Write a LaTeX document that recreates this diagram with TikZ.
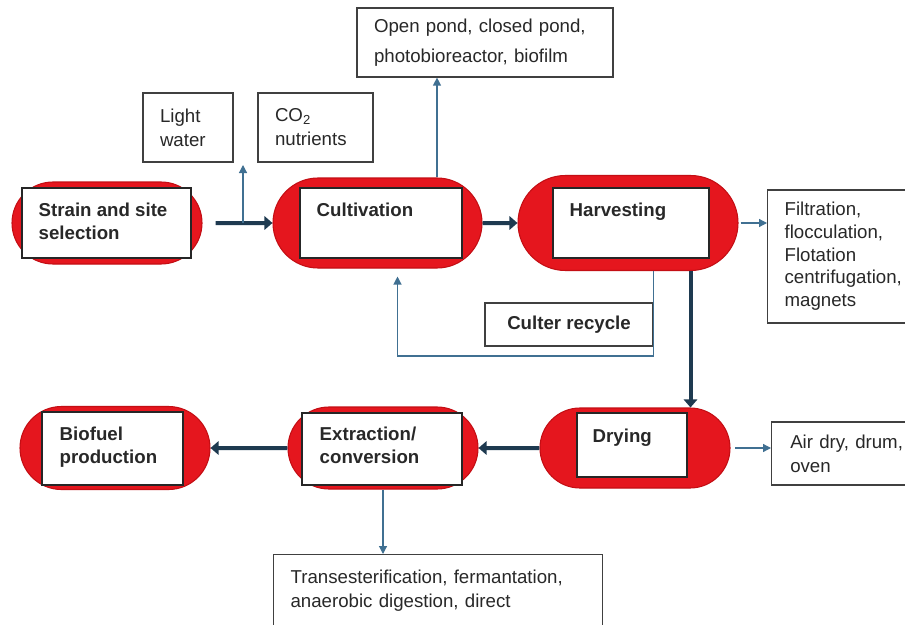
\documentclass[tikz,border=0pt]{standalone}
\usepackage{fontspec}
\setmainfont{Liberation Sans}
\usetikzlibrary{arrows.meta,shapes.misc}
\definecolor{pillred}{RGB}{229,22,30}
\definecolor{pilledge}{RGB}{196,14,20}
\definecolor{flowblue}{RGB}{30,58,80}
\definecolor{sideblue}{RGB}{64,112,146}
\definecolor{ink}{RGB}{40,40,40}

\begin{document}
\begin{tikzpicture}[x=0.75pt,y=-0.75pt,
	pill/.style={rounded rectangle, fill=pillred, draw=pilledge, line width=0.8pt, inner sep=0pt},
	stage/.style={rectangle, draw=black!85, fill=white, line width=0.8pt, inner sep=0pt},
	tag/.style={anchor=north west, align=left, inner sep=0pt, text=ink, font=\fontsize{14}{17.25}\selectfont\bfseries},
	note/.style={rectangle, draw=black!75, fill=white, line width=0.9pt, align=left, inner xsep=12.75pt, inner ysep=0pt, text=ink, font=\fontsize{14}{18}\selectfont},
	mainarrow/.style={-{Triangle[length=6pt,width=10pt]}, draw=flowblue, line width=3pt},
	sidearrow/.style={-{Triangle[length=6pt,width=6pt]}, draw=sideblue, line width=0.9pt}]

	\useasboundingbox (0,0) rectangle (905,624);
	\clip (0,0) rectangle (905,624);
	\fill[white] (0,0) rectangle (905,624);

	\node[pill, minimum width=142.5pt, minimum height=61.5pt] (p_1) at (107,223) {};
	\node[pill, minimum width=156.75pt, minimum height=67.5pt] (p_2) at (377.5,223) {};
	\node[pill, minimum width=165pt, minimum height=71.25pt] (p_3) at (628,223) {};
	\node[pill, minimum width=142.5pt, minimum height=60pt] (p_4) at (635,448) {};
	\node[pill, minimum width=142.5pt, minimum height=61.5pt] (p_5) at (383,448) {};
	\node[pill, minimum width=142.5pt, minimum height=62.25pt] (p_6) at (115,448) {};

	\node[stage, minimum width=126.75pt, minimum height=52.5pt] (t_1) at (106.5,223) {};
	\node[stage, minimum width=121.5pt, minimum height=52.5pt] (t_2) at (381,223) {};
	\node[stage, minimum width=117pt, minimum height=52.5pt] (t_3) at (631,223) {};
	\node[stage, minimum width=82.5pt, minimum height=48pt] (t_4) at (632,445) {};
	\node[stage, minimum width=120pt, minimum height=54pt] (t_5) at (382,449) {};
	\node[stage, minimum width=105.75pt, minimum height=54.75pt] (t_6) at (112.5,448.5) {};

	\node[tag] (l_1) at ([shift={(12.75pt,-11.5pt)}]t_1.north west) {Strain and site\\selection};
	\node[tag] (l_2) at ([shift={(12.75pt,-11.5pt)}]t_2.north west) {Cultivation};
	\node[tag] (l_3) at ([shift={(12.75pt,-11.5pt)}]t_3.north west) {Harvesting};
	\node[tag] (l_4) at ([shift={(12pt,-12pt)}]t_4.north west) {Drying};
	\node[tag] (l_5) at ([shift={(13.5pt,-11pt)}]t_5.north west) {Extraction/\\conversion};
	\node[tag] (l_6) at ([shift={(13.5pt,-11.5pt)}]t_6.north west) {Biofuel\\production};

	\node[note, text width=42pt, minimum height=51.75pt] (a_1) at (188,127.5) {Light\\water};
	\node[note, text width=60.75pt, minimum height=51.75pt] (a_2) at (315.5,127.5) {CO\textsubscript{2}\\nutrients};
	\node[note, text width=166.5pt, minimum height=51.75pt, font=\fontsize{14}{22.5}\selectfont] (a_3) at (485,42.5) {Open pond, closed pond,\\photobioreactor, biofilm};
	\node[note, text width=115pt, minimum height=99.75pt, anchor=west, font=\fontsize{14}{17}\selectfont] (a_4) at (767,256.5) {Filtration,\\flocculation,\\Flotation\\centrifugation,\\magnets};
	\node[note, text width=110pt, minimum height=47.25pt, anchor=west, inner xsep=14pt] (a_5) at (771,453.5) {Air dry, drum,\\oven};
	\node[note, text width=221.25pt, minimum height=54pt, anchor=north west] (a_6) at (273,554) {Transesterification, fermantation,\\anaerobic digestion, direct};
	\node[note, minimum width=126pt, minimum height=32.25pt, font=\fontsize{14}{17}\selectfont\bfseries] (a_7) at (569,324.5) {Culter recycle};

	\coordinate (c_1) at (243,223);

	\draw[mainarrow, shorten <=9.75pt] (p_1) -- (p_2);
	\draw[mainarrow] (p_2) -- (p_3);
	\draw[mainarrow] (p_3.south east) -- (p_3.south east |- p_4.north);
	\draw[mainarrow] (p_4) -- (p_5);
	\draw[mainarrow] (p_5) -- (p_6);

	\draw[sidearrow] (c_1) -- ++(0,-58);
	\draw[sidearrow] (p_2.north east) -- (p_2.north east |- a_3.south);
	\draw[sidearrow, shorten <=1.5pt] (p_3.east) -- (p_3.east -| a_4.west);
	\draw[sidearrow, shorten >=6pt] (a_7.east |- p_3.south) -- ++(0,85) -| ([xshift=15pt]p_2.south);
	\draw[sidearrow, shorten <=3.5pt] (p_4.east) -- (p_4.east -| a_5.west);
	\draw[sidearrow] (p_5.south) -- (p_5.south |- a_6.north);

\end{tikzpicture}
\end{document}
